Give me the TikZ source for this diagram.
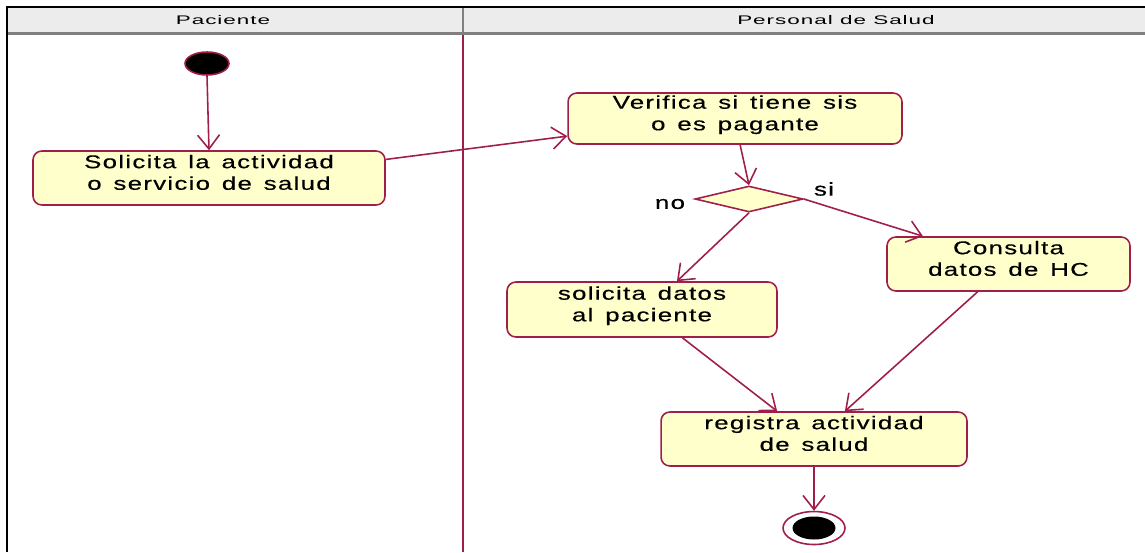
\documentclass[tikz,border=0pt]{standalone}
\usepackage{fontspec}
\setmainfont{Liberation Sans}
\newfontfamily\boxfont[FakeStretch=1.4,LetterSpace=7,WordSpace=1.4,FakeBold=0.4]{Liberation Sans}
\newfontfamily\lanefont[FakeStretch=1.8,LetterSpace=8]{Liberation Sans}
\usetikzlibrary{arrows.meta, shapes.geometric, positioning}

\definecolor{flowred}{RGB}{160,30,75}
\definecolor{actfill}{RGB}{255,255,204}
\definecolor{lanegray}{RGB}{236,236,236}

\begin{document}
\begin{tikzpicture}[x=0.02cm, y=-0.02cm,
  act/.style={draw=flowred, fill=actfill, rounded corners=5pt, line width=0.9pt,
    align=center, inner sep=0pt, text depth=6.5pt,
    font=\boxfont\fontsize{10.5}{12.3}\selectfont},
  flow/.style={draw=flowred, line width=0.9pt, -{Straight Barb[length=0.28cm,width=0.44cm]}},
  lanetitle/.style={font=\lanefont\fontsize{7.1}{8}\selectfont},
  guard/.style={font=\boxfont\fontsize{10.5}{12.3}\selectfont},
  startdot/.style={ellipse, draw=flowred, fill=black, line width=0.9pt,
    minimum width=0.88cm, minimum height=0.46cm, inner sep=0pt},
  endring/.style={ellipse, draw=flowred, fill=white, line width=0.9pt,
    minimum width=1.24cm, minimum height=0.66cm, inner sep=0pt},
  enddot/.style={ellipse, fill=black, minimum width=0.86cm, minimum height=0.46cm, inner sep=0pt},
  decide/.style={diamond, draw=flowred, fill=actfill, line width=0.9pt,
    minimum width=2.16cm, minimum height=0.52cm, inner sep=0pt}]

\useasboundingbox (0,0) rectangle (1145,552);

% swimlanes
\fill[lanegray] (8,8) rectangle (1145,32);
\draw[black, line width=1.2pt] (7,552) -- (7,7) -- (1145,7);
\draw[gray, line width=1.4pt] (8,33.5) -- (1145,33.5);
\draw[gray, line width=1.4pt] (463,8) -- (463,33);
\draw[flowred, line width=0.9pt] (463,35) -- (463,552);

\node[lanetitle] (pac) at (223,20) {Paciente};
\node[lanetitle] (per) at (836,20) {Personal de Salud};

% activities
\node[startdot] (ini) at (207,63.5) {};
\node[act, minimum width=7.04cm, minimum height=1.08cm] (sol) at (209,178)
  {Solicita la actividad\\o servicio de salud};
\node[act, minimum width=6.68cm, minimum height=1.02cm] (ver) at (735,118.5)
  {Verifica si tiene sis\\o es pagante};
\node[decide] (dec) at (749,199) {};
\node[act, minimum width=5.4cm, minimum height=1.1cm] (dat) at (642,309.5)
  {solicita datos\\al paciente};
\node[act, minimum width=4.86cm, minimum height=1.08cm] (con) at (1008.5,264)
  {Consulta\\datos de HC};
\node[act, minimum width=6.12cm, minimum height=1.08cm] (reg) at (814,439)
  {registra actividad\\de salud};
\node[endring] (fin) at (814,528) {};
\node[enddot] (findot) at (fin) {};

\node[guard] (no) at (670,204) {no};
\node[guard] (si) at (824,189) {si};

% transitions
\draw[flow] (ini.south) -- (sol.north);
\draw[flow] (sol.6.8) -- (ver.186.3);
\draw[flow] (ver.281) -- (dec.north);
\draw[flow] (dec.south) -- (dat.39.8);
\draw[flow] (dec.east) -- (con.162.7);
\draw[flow] (dat.-35.9) -- (reg.143.9);
\draw[flow] (con.222.5) -- (reg.42.1);
\draw[flow] (reg.south) -- (fin.north);

\end{tikzpicture}
\end{document}
